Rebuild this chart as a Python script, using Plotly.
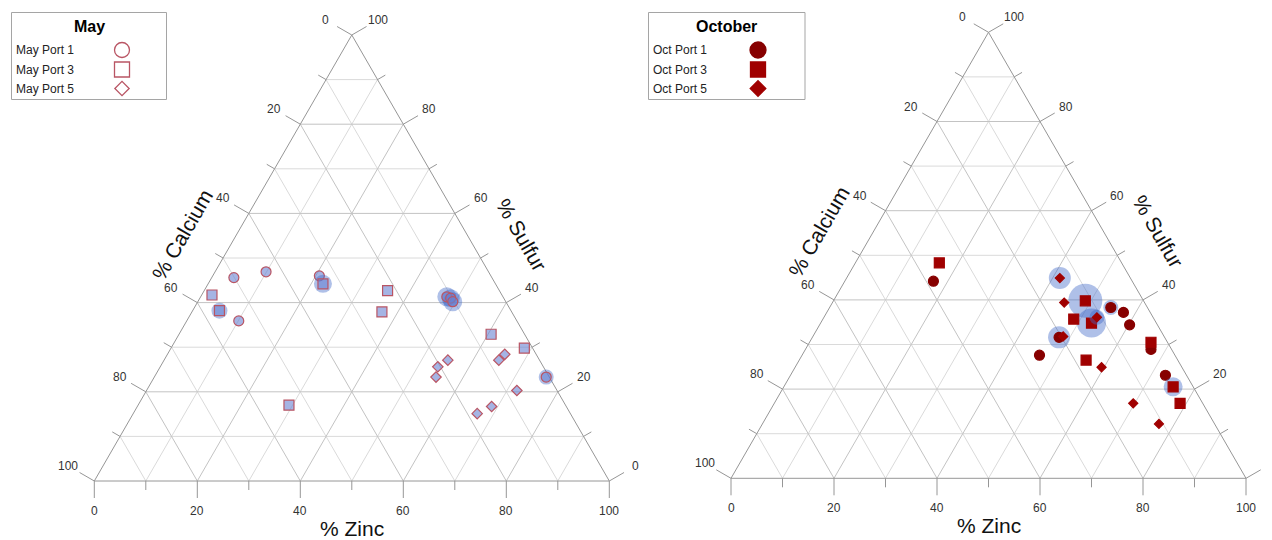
import math
import plotly.graph_objects as go

# ---- Composition data (percent): zinc, calcium, sulfur per sample ----
# spread = diameter of the translucent bubble drawn behind a sample
may_p1_zinc = [4.3, 9.9, 20.7, 10.1, 47.8, 48.7, 49.5, 76.1]
may_p1_calcium = [50.1, 43.2, 33.3, 54.0, 10.9, 10.3, 10.3, 0.6]
may_p1_sulfur = [45.6, 46.9, 46.0, 35.9, 41.3, 41.0, 40.2, 23.3]
may_p1_spread = [0, 0, 0, 0, 19, 18, 19, 15]

may_p3_zinc = [2.0, 5.2, 22.3, 35.6, 36.9, 29.3, 60.6, 68.6]
may_p3_calcium = [56.3, 56.6, 33.5, 21.7, 25.2, 53.7, 6.5, 1.6]
may_p3_sulfur = [41.7, 38.2, 44.2, 42.7, 37.9, 17.0, 32.9, 29.8]
may_p3_spread = [0, 16, 18, 0, 0, 0, 0, 0]

may_p5_zinc = [55.1, 53.9, 54.7, 65.5, 65.0, 71.9, 68.8, 66.8]
may_p5_calcium = [17.8, 20.5, 22.0, 6.1, 7.9, 7.8, 14.5, 18.1]
may_p5_sulfur = [27.1, 25.6, 23.3, 28.4, 27.1, 20.3, 16.7, 15.1]
may_p5_spread = [0, 0, 0, 0, 0, 0, 0, 0]

oct_p1_zinc = [54.6, 57.6, 60.2, 47.9, 67.1, 46.1, 72.8, 17.2]
oct_p1_calcium = [7.1, 5.2, 5.4, 20.5, 4.0, 26.3, 4.1, 38.6]
oct_p1_sulfur = [38.3, 37.2, 34.4, 31.6, 28.9, 27.6, 23.1, 44.2]
oct_p1_spread = [15, 0, 0, 22, 0, 0, 0, 0]

oct_p3_zinc = [48.9, 48.7, 52.6, 66.3, 55.7, 75.6, 78.8, 16.3]
oct_p3_calcium = [11.3, 15.6, 12.6, 3.2, 17.8, 3.9, 4.4, 35.4]
oct_p3_sulfur = [39.8, 35.7, 34.8, 30.5, 26.5, 20.5, 16.8, 48.3]
oct_p3_spread = [34, 0, 29, 0, 0, 19, 0, 0]

oct_p5_zinc = [41.4, 45.0, 53.0, 48.6, 59.5, 69.7, 77.0]
oct_p5_calcium = [13.7, 15.6, 10.9, 19.6, 15.6, 13.5, 10.8]
oct_p5_sulfur = [44.9, 39.4, 36.1, 31.8, 24.9, 16.8, 12.2]
oct_p5_spread = [22, 0, 15, 0, 0, 0, 0]

tick_values = list(range(0, 101, 10))

may_names = ["May Port 1", "May Port 3", "May Port 5"]
oct_names = ["Oct Port 1", "Oct Port 3", "Oct Port 5"]

# ---- Geometry helpers ----
H = math.sqrt(3) / 2
PX = 5.15                      # pixels per composition unit
W, HT = 1272, 540
FONT = "Liberation Sans, Arial, sans-serif"
FRAME = "rgb(150,150,150)"


def to_xy(zn, ca, s):
    """Ternary (zinc, calcium, sulfur) -> cartesian; zinc right, sulfur up."""
    tot = zn + ca + s
    zn, s = 100 * zn / tot, 100 * s / tot
    return zn + s / 2, s * H


def project(zinc, calcium, sulfur):
    pts = [to_xy(a, b, c) for a, b, c in zip(zinc, calcium, sulfur)]
    return [p[0] for p in pts], [p[1] for p in pts]


fig = go.Figure()
annotations = []


def add_frame(xa, ya, x_limit):
    xr, yr = xa.replace("axis", ""), ya.replace("axis", "")
    major = ([], [])
    minor = ([], [])
    for v in range(10, 100, 10):
        segs = [((v, 100 - v, 0), (v, 0, 100 - v)),      # constant zinc
                ((0, 100 - v, v), (100 - v, 0, v)),      # constant sulfur
                ((100 - v, v, 0), (0, v, 100 - v))]      # constant calcium
        tgt = major if v % 20 == 0 else minor
        for a, b in segs:
            p, q = to_xy(*a), to_xy(*b)
            tgt[0].extend([p[0], q[0], None])
            tgt[1].extend([p[1], q[1], None])
    fig.add_trace(go.Scatter(x=minor[0], y=minor[1], mode="lines", xaxis=xr, yaxis=yr,
                             line=dict(color="rgb(218,218,218)", width=1),
                             hoverinfo="skip", showlegend=False))
    fig.add_trace(go.Scatter(x=major[0], y=major[1], mode="lines", xaxis=xr, yaxis=yr,
                             line=dict(color="rgb(195,195,195)", width=1),
                             hoverinfo="skip", showlegend=False))
    # outline
    corners = [to_xy(0, 100, 0), to_xy(100, 0, 0), to_xy(0, 0, 100), to_xy(0, 100, 0)]
    tx, ty = [c[0] for c in corners] + [None], [c[1] for c in corners] + [None]
    # ticks: perpendicular to each side, labels on the even ones
    lab_d = 30 / PX
    for v in tick_values:
        ln = (17 if v % 20 == 0 else 9) / PX
        sides = [(to_xy(v, 100 - v, 0), (0, -1)),                 # zinc, bottom
                 (to_xy(0, v, 100 - v), (-H, 0.5)),               # calcium, left
                 (to_xy(100 - v, 0, v), (H, 0.5))]                # sulfur, right
        for base, d in sides:
            tx.extend([base[0], base[0] + d[0] * ln, None])
            ty.extend([base[1], base[1] + d[1] * ln, None])
            lx, ly = base[0] + d[0] * lab_d, base[1] + d[1] * lab_d
            if v % 20 == 0 and lx < x_limit:
                annotations.append(dict(x=lx, y=ly, xref=xr, yref=yr, text=str(v),
                                        showarrow=False, xanchor="center", yanchor="middle",
                                        font=dict(family=FONT, size=12, color="#333333")))
    fig.add_trace(go.Scatter(x=tx, y=ty, mode="lines", xaxis=xr, yaxis=yr,
                             line=dict(color=FRAME, width=1),
                             hoverinfo="skip", showlegend=False))
    # axis titles along the sides
    t_d = 47 / PX
    mid_b, mid_l, mid_r = to_xy(50, 50, 0), to_xy(0, 50, 50), to_xy(50, 0, 50)
    for (bx, by), d, txt, ang in [(mid_b, (0, -1), "% Zinc", 0),
                                  (mid_l, (-H, 0.5), "% Calcium", -60),
                                  (mid_r, (H, 0.5), "% Sulfur", 60)]:
        annotations.append(dict(x=bx + d[0] * t_d, y=by + d[1] * t_d, xref=xr, yref=yr,
                                text=txt, showarrow=False, textangle=ang,
                                xanchor="center", yanchor="middle",
                                font=dict(family=FONT, size=21, color="#111111")))


def add_points(xa, ya, zinc, calcium, sulfur, spread, symbol, size, fill, edge):
    xr, yr = xa.replace("axis", ""), ya.replace("axis", "")
    x, y = project(zinc, calcium, sulfur)
    fig.add_trace(go.Scatter(x=x, y=y, mode="markers", xaxis=xr, yaxis=yr,
                             marker=dict(size=spread, sizemode="diameter", sizeref=1,
                                         color="rgba(65,105,200,0.6)", line=dict(width=0)),
                             hoverinfo="skip", showlegend=False))
    fig.add_trace(go.Scatter(x=x, y=y, mode="markers", xaxis=xr, yaxis=yr,
                             marker=dict(symbol=symbol, size=size, color=fill,
                                         line=dict(color=edge, width=1.2)),
                             showlegend=False))


# x limits keep corner labels inside the page
add_frame("xaxis", "yaxis", (636 - 94.3) / PX)
add_frame("xaxis2", "yaxis2", (1262 - 731) / PX)

MAY_FILL = "rgba(105,130,210,0.6)"
MAY_EDGE = "rgb(185,85,100)"
add_points("xaxis", "yaxis", may_p1_zinc, may_p1_calcium, may_p1_sulfur, may_p1_spread,
           "circle", 10, MAY_FILL, MAY_EDGE)
add_points("xaxis", "yaxis", may_p3_zinc, may_p3_calcium, may_p3_sulfur, may_p3_spread,
           "square", 10, MAY_FILL, MAY_EDGE)
add_points("xaxis", "yaxis", may_p5_zinc, may_p5_calcium, may_p5_sulfur, may_p5_spread,
           "diamond", 8, MAY_FILL, MAY_EDGE)

add_points("xaxis2", "yaxis2", oct_p1_zinc, oct_p1_calcium, oct_p1_sulfur, oct_p1_spread,
           "circle", 10, "rgb(135,0,0)", "rgb(135,0,0)")
add_points("xaxis2", "yaxis2", oct_p3_zinc, oct_p3_calcium, oct_p3_sulfur, oct_p3_spread,
           "square", 10, "rgb(160,0,0)", "rgb(160,0,0)")
add_points("xaxis2", "yaxis2", oct_p5_zinc, oct_p5_calcium, oct_p5_sulfur, oct_p5_spread,
           "diamond", 7, "rgb(160,0,0)", "rgb(160,0,0)")

# ---- Legend boxes (pixel-space overlay axis) ----
shapes = []
legend_rows = [50, 69.5, 88.5]
for (x0, x1, title, names, sym_x, styles) in [
        (11.5, 166.5, "May", may_names, 122,
         [("circle-open", 15, MAY_EDGE), ("square-open", 15, MAY_EDGE), ("diamond-open", 11, MAY_EDGE)]),
        (648.5, 805, "October", oct_names, 758,
         [("circle", 16, "rgb(135,0,0)"), ("square", 15, "rgb(160,0,0)"), ("diamond", 12, "rgb(160,0,0)")])]:
    shapes.append(dict(type="rect", xref="x3", yref="y3", x0=x0, x1=x1, y0=12.5, y1=99.5,
                       line=dict(color="rgb(165,165,165)", width=1), fillcolor="white",
                       layer="below"))
    annotations.append(dict(x=(x0 + x1) / 2, y=26, xref="x3", yref="y3", text="<b>%s</b>" % title,
                            showarrow=False, xanchor="center", yanchor="middle",
                            font=dict(family=FONT, size=16, color="#000000")))
    for name, yy, (sym, sz, col) in zip(names, legend_rows, styles):
        annotations.append(dict(x=x0 + 2, y=yy, xref="x3", yref="y3", text=name,
                                showarrow=False, xanchor="left", yanchor="middle",
                                font=dict(family=FONT, size=12, color="#222222")))
        fig.add_trace(go.Scatter(x=[sym_x], y=[yy], mode="markers", xaxis="x3", yaxis="y3",
                                 marker=dict(symbol=sym, size=sz, color=col,
                                             line=dict(color=col, width=1.3)),
                                 hoverinfo="skip", showlegend=False))

hidden = dict(visible=False, showgrid=False, zeroline=False, fixedrange=True)
fig.update_layout(
    template="none",
    width=W, height=HT, autosize=False,
    margin=dict(l=0, r=0, t=0, b=0),
    paper_bgcolor="white", plot_bgcolor="rgba(0,0,0,0)",
    showlegend=False,
    xaxis=dict(domain=[0, 0.5], range=[-94.3 / PX, (636 - 94.3) / PX], anchor="y", **hidden),
    yaxis=dict(domain=[0, 1], range=[-(540 - 481) / PX, 481 / PX], anchor="x", **hidden),
    xaxis2=dict(domain=[0.5, 1], range=[(636 - 731) / PX, (1272 - 731) / PX], anchor="y2", **hidden),
    yaxis2=dict(domain=[0, 1], range=[-(540 - 478.3) / PX, 478.3 / PX], anchor="x2", **hidden),
    xaxis3=dict(domain=[0, 1], range=[0, W], anchor="y3", **hidden),
    yaxis3=dict(domain=[0, 1], range=[HT, 0], anchor="x3", **hidden),
    shapes=shapes,
    annotations=annotations,
)

fig.write_html("out.html")
